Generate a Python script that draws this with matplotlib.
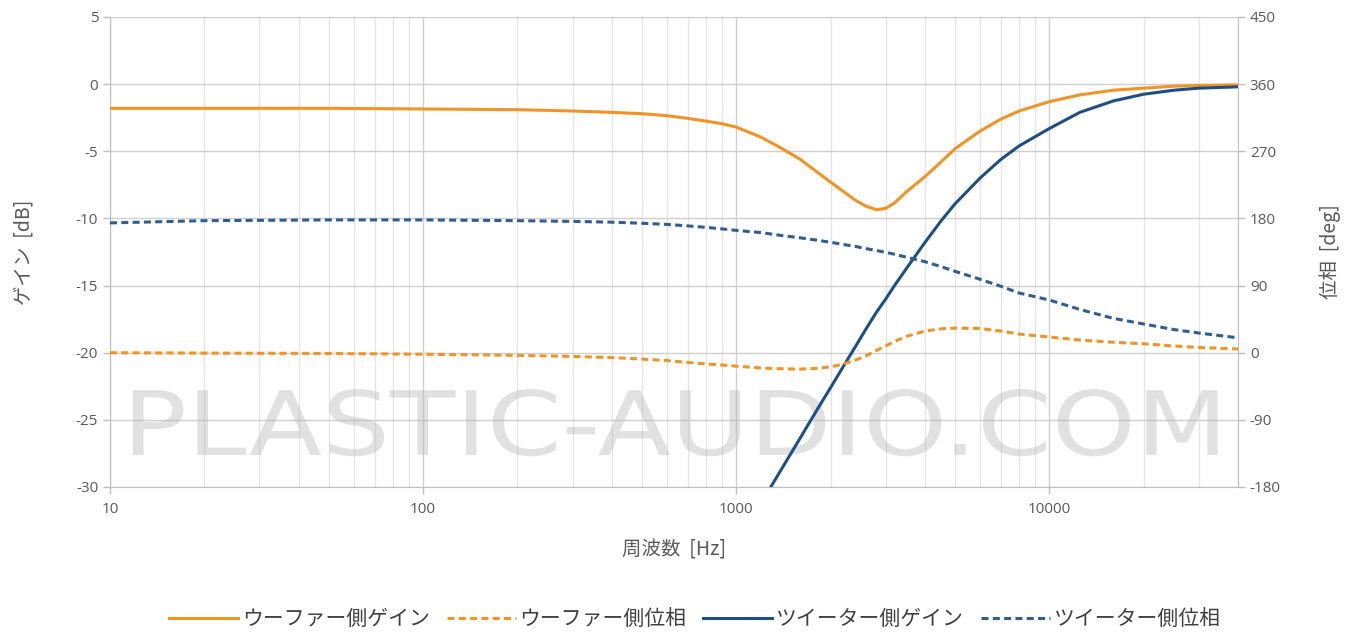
import numpy as np
import matplotlib
matplotlib.use("Agg")
import matplotlib.pyplot as plt
import matplotlib.transforms as mtransforms
from matplotlib.ticker import LogLocator, FixedLocator, FuncFormatter, NullFormatter
from matplotlib.textpath import TextPath
from matplotlib.patches import PathPatch
from matplotlib.font_manager import FontProperties

plt.rcParams['font.family'] = ['Noto Sans CJK JP', 'DejaVu Sans']
plt.rcParams['axes.unicode_minus'] = False

# Frequency points [Hz]
freq = [10, 20, 50, 100, 200, 300, 400, 500, 600, 700, 800, 900, 1000, 1200, 1400,
        1600, 1800, 2000, 2200, 2400, 2600, 2800, 3000, 3200, 3500, 4000, 4500, 5000,
        6000, 7000, 8000, 10000, 12500, 16000, 20000, 25000, 30000, 40000]

# Woofer side gain [dB]
woofer_gain = [-1.8, -1.8, -1.8, -1.85, -1.9, -2.0, -2.1, -2.2, -2.35, -2.55, -2.75,
               -2.95, -3.2, -3.95, -4.8, -5.6, -6.5, -7.3, -8.0, -8.65, -9.1, -9.35,
               -9.25, -8.85, -8.0, -6.9, -5.8, -4.8, -3.5, -2.6, -2.0, -1.3, -0.8,
               -0.45, -0.3, -0.15, -0.1, -0.05]

# Woofer side phase [deg]
woofer_phase = [0, -0.5, -1, -2, -3.5, -5, -6.5, -8.5, -10.5, -13, -15, -16.5, -18,
                -20.5, -21.5, -22, -21, -19, -15, -10, -4, 3, 9, 15, 22, 29, 32, 33,
                32.5, 29, 25, 21, 17, 14, 12, 9, 7, 5]

# Tweeter side gain [dB] (below the axis range at low frequencies)
tweeter_gain = [np.nan, np.nan, np.nan, np.nan, np.nan, np.nan, np.nan, np.nan,
                np.nan, np.nan, np.nan, np.nan,
                -34.3, -31.2, -28.6, -26.35, -24.35, -22.6, -21.0, -19.55, -18.2, -17.0,
                -16.0, -15.0, -13.7, -11.8, -10.2, -8.9, -7.0, -5.6, -4.6, -3.3, -2.1,
                -1.25, -0.75, -0.45, -0.3, -0.2]

# Tweeter side phase [deg]
tweeter_phase = [174, 177, 178, 178, 177, 176, 175, 173.5, 172, 170, 168, 166, 164,
                 161, 157, 154, 151, 148, 145, 142.5, 139.5, 137, 134.5, 132, 128, 122,
                 115.5, 109, 98.5, 89, 80, 70.6, 58, 46, 38.5, 31, 26.4, 20]

gain_ticks = [5, 0, -5, -10, -15, -20, -25, -30]
phase_ticks = [450, 360, 270, 180, 90, 0, -90, -180]
freq_ticks = [10, 100, 1000, 10000]

labels = ['ウーファー側ゲイン', 'ウーファー側位相', 'ツイーター側ゲイン', 'ツイーター側位相']

ORANGE = '#F39325'
BLUE = '#1D4F85'
BLUE_D = '#2F5E95'
TXT = '#595959'
AXC = '#bfbfbf'
NUM_FONT = ['Open Sans', 'DejaVu Sans']
DASH = (0, (2.3, 1.4))

fig = plt.figure(figsize=(13.59, 6.32), dpi=100)
ax = fig.add_axes([110 / 1359, 1 - 487 / 632, (1238 - 110) / 1359, (487 - 17) / 632])
ax2 = ax.twinx()

ax.set_xscale('log')
ax.set_xlim(10, 40000)
ax.set_ylim(-30, 5)
ax2.set_ylim(-180, 450)

ax.xaxis.set_major_locator(FixedLocator(freq_ticks))
ax.xaxis.set_major_formatter(FuncFormatter(lambda v, p: f'{int(round(v))}'))
ax.xaxis.set_minor_locator(LogLocator(base=10, subs=np.arange(2, 10)))
ax.xaxis.set_minor_formatter(NullFormatter())
ax.set_yticks(gain_ticks)
ax2.set_yticks(phase_ticks)

ax.grid(True, which='major', axis='both', color='#cfcfcf', lw=1.0, zorder=0)
ax.grid(True, which='minor', axis='x', color='#e3e3e3', lw=0.9, zorder=0)
ax.set_axisbelow(True)

for a in (ax, ax2):
    for s in a.spines.values():
        s.set_visible(False)
for a, side in ((ax, 'left'), (ax, 'bottom'), (ax2, 'right')):
    a.spines[side].set_visible(True)
    a.spines[side].set_color(AXC)

ax.tick_params(axis='both', which='major', colors=AXC, labelcolor=TXT,
               labelsize=11, length=5, width=1)
ax.tick_params(axis='x', which='minor', length=0)
ax.tick_params(axis='x', which='major', pad=6)
ax2.tick_params(axis='y', colors=AXC, labelcolor=TXT, labelsize=11, length=5, width=1)
for lab in ax.get_xticklabels() + ax.get_yticklabels() + ax2.get_yticklabels():
    lab.set_family(NUM_FONT)

# Watermark, stretched to span the plot area
wm = TextPath((0, 0), 'PLASTIC-AUDIO.COM', size=1, prop=FontProperties(family='DejaVu Sans'))
bb = wm.get_extents()
x0, x1 = 0.0204, 0.982
base, cap = 0.068, 0.206
wm_tr = (mtransforms.Affine2D().translate(-bb.x0, 0)
         .scale((x1 - x0) / bb.width, (cap - base) / 0.729)
         .translate(x0, base) + ax.transAxes)
ax.add_patch(PathPatch(wm, transform=wm_tr, facecolor='#b8b8b8', edgecolor='none',
                       alpha=0.42, zorder=1))

l1, = ax.plot(freq, woofer_gain, color=ORANGE, lw=2.2, zorder=3)
l3, = ax.plot(freq, tweeter_gain, color=BLUE, lw=2.2, zorder=3)
l2, = ax2.plot(freq, woofer_phase, color=ORANGE, lw=2.2, ls=DASH, zorder=3)
l4, = ax2.plot(freq, tweeter_phase, color=BLUE_D, lw=2.2, ls=DASH, zorder=3)

ax.set_xlabel('周波数  [Hz]', fontsize=14, color=TXT, labelpad=16)
ax.set_ylabel('ゲイン  [dB]', fontsize=14, color=TXT, labelpad=30)
ax2.set_ylabel('位相  [deg]', fontsize=14, color=TXT, labelpad=28)

fig.legend([l1, l2, l3, l4], labels, loc='center', bbox_to_anchor=(695 / 1359, 1 - 619 / 632),
           ncol=4, frameon=False, fontsize=15, handlelength=3.3, columnspacing=0.8,
           handletextpad=0.2, labelcolor='#404040')

fig.savefig('out.png', dpi=100)
